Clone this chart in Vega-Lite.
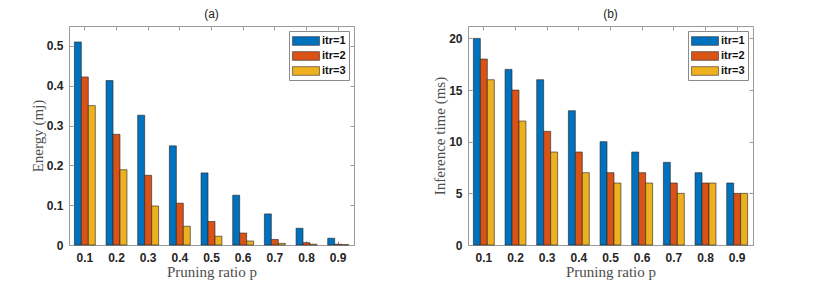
{
  "$schema": "https://vega.github.io/schema/vega-lite/v6.json",
  "background": "white",
  "padding": {"left": 29, "top": 7, "right": 5, "bottom": 5},
  "spacing": 77,
  "datasets": {
    "energy": [
      {"p": "0.1", "itr": "itr=1", "value": 0.510}, {"p": "0.1", "itr": "itr=2", "value": 0.422}, {"p": "0.1", "itr": "itr=3", "value": 0.350},
      {"p": "0.2", "itr": "itr=1", "value": 0.413}, {"p": "0.2", "itr": "itr=2", "value": 0.278}, {"p": "0.2", "itr": "itr=3", "value": 0.189},
      {"p": "0.3", "itr": "itr=1", "value": 0.326}, {"p": "0.3", "itr": "itr=2", "value": 0.175}, {"p": "0.3", "itr": "itr=3", "value": 0.098},
      {"p": "0.4", "itr": "itr=1", "value": 0.249}, {"p": "0.4", "itr": "itr=2", "value": 0.105}, {"p": "0.4", "itr": "itr=3", "value": 0.047},
      {"p": "0.5", "itr": "itr=1", "value": 0.181}, {"p": "0.5", "itr": "itr=2", "value": 0.059}, {"p": "0.5", "itr": "itr=3", "value": 0.022},
      {"p": "0.6", "itr": "itr=1", "value": 0.125}, {"p": "0.6", "itr": "itr=2", "value": 0.030}, {"p": "0.6", "itr": "itr=3", "value": 0.010},
      {"p": "0.7", "itr": "itr=1", "value": 0.078}, {"p": "0.7", "itr": "itr=2", "value": 0.014}, {"p": "0.7", "itr": "itr=3", "value": 0.004},
      {"p": "0.8", "itr": "itr=1", "value": 0.042}, {"p": "0.8", "itr": "itr=2", "value": 0.006}, {"p": "0.8", "itr": "itr=3", "value": 0.002},
      {"p": "0.9", "itr": "itr=1", "value": 0.017}, {"p": "0.9", "itr": "itr=2", "value": 0.002}, {"p": "0.9", "itr": "itr=3", "value": 0.001}
    ],
    "time": [
      {"p": "0.1", "itr": "itr=1", "value": 20}, {"p": "0.1", "itr": "itr=2", "value": 18}, {"p": "0.1", "itr": "itr=3", "value": 16},
      {"p": "0.2", "itr": "itr=1", "value": 17}, {"p": "0.2", "itr": "itr=2", "value": 15}, {"p": "0.2", "itr": "itr=3", "value": 12},
      {"p": "0.3", "itr": "itr=1", "value": 16}, {"p": "0.3", "itr": "itr=2", "value": 11}, {"p": "0.3", "itr": "itr=3", "value": 9},
      {"p": "0.4", "itr": "itr=1", "value": 13}, {"p": "0.4", "itr": "itr=2", "value": 9}, {"p": "0.4", "itr": "itr=3", "value": 7},
      {"p": "0.5", "itr": "itr=1", "value": 10}, {"p": "0.5", "itr": "itr=2", "value": 7}, {"p": "0.5", "itr": "itr=3", "value": 6},
      {"p": "0.6", "itr": "itr=1", "value": 9}, {"p": "0.6", "itr": "itr=2", "value": 7}, {"p": "0.6", "itr": "itr=3", "value": 6},
      {"p": "0.7", "itr": "itr=1", "value": 8}, {"p": "0.7", "itr": "itr=2", "value": 6}, {"p": "0.7", "itr": "itr=3", "value": 5},
      {"p": "0.8", "itr": "itr=1", "value": 7}, {"p": "0.8", "itr": "itr=2", "value": 6}, {"p": "0.8", "itr": "itr=3", "value": 6},
      {"p": "0.9", "itr": "itr=1", "value": 6}, {"p": "0.9", "itr": "itr=2", "value": 5}, {"p": "0.9", "itr": "itr=3", "value": 5}
    ]
  },
  "hconcat": [
    {
      "width": 285,
      "height": 219,
      "title": {"text": "(a)"},
      "data": {"name": "energy"},
      "layer": [
        {
          "mark": {"type": "bar", "stroke": "#222222", "strokeWidth": 0.6},
          "encoding": {
            "x": {"field": "p", "type": "ordinal", "sort": null, "scale": {"paddingInner": 0.34, "paddingOuter": 0.17},
                  "axis": {"orient": "bottom", "title": "Pruning ratio p", "labelAngle": 0}},
            "xOffset": {"field": "itr", "type": "nominal", "scale": {"paddingInner": 0, "paddingOuter": 0}},
            "y": {"field": "value", "type": "quantitative", "scale": {"domain": [0, 0.55], "nice": false},
                  "axis": {"orient": "left", "title": "Energy (mj)", "values": [0, 0.1, 0.2, 0.3, 0.4, 0.5],
                           "labelExpr": "datum.value == 0 ? '0' : format(datum.value, '.1f')"}},
            "color": {"field": "itr", "type": "nominal",
                      "scale": {"domain": ["itr=1", "itr=2", "itr=3"], "range": ["#0072BD", "#D95319", "#EDB120"]},
                      "legend": {"orient": "top-right", "title": null}}
          }
        },
        {
          "mark": {"type": "bar", "opacity": 0},
          "encoding": {
            "x": {"field": "p", "type": "ordinal", "sort": null, "axis": {"orient": "top", "title": null, "labels": false}},
            "xOffset": {"field": "itr", "type": "nominal"},
            "y": {"field": "value", "type": "quantitative",
                  "axis": {"orient": "right", "title": null, "labels": false, "values": [0, 0.1, 0.2, 0.3, 0.4, 0.5]}}
          }
        }
      ],
      "resolve": {"axis": {"x": "independent", "y": "independent"}}
    },
    {
      "width": 285,
      "height": 219,
      "title": {"text": "(b)"},
      "data": {"name": "time"},
      "layer": [
        {
          "mark": {"type": "bar", "stroke": "#222222", "strokeWidth": 0.6},
          "encoding": {
            "x": {"field": "p", "type": "ordinal", "sort": null, "scale": {"paddingInner": 0.34, "paddingOuter": 0.17},
                  "axis": {"orient": "bottom", "title": "Pruning ratio p", "labelAngle": 0}},
            "xOffset": {"field": "itr", "type": "nominal", "scale": {"paddingInner": 0, "paddingOuter": 0}},
            "y": {"field": "value", "type": "quantitative", "scale": {"domain": [0, 21.2], "nice": false},
                  "axis": {"orient": "left", "title": "Inference time (ms)", "values": [0, 5, 10, 15, 20]}},
            "color": {"field": "itr", "type": "nominal",
                      "scale": {"domain": ["itr=1", "itr=2", "itr=3"], "range": ["#0072BD", "#D95319", "#EDB120"]},
                      "legend": {"orient": "top-right", "title": null}}
          }
        },
        {
          "mark": {"type": "bar", "opacity": 0},
          "encoding": {
            "x": {"field": "p", "type": "ordinal", "sort": null, "axis": {"orient": "top", "title": null, "labels": false}},
            "xOffset": {"field": "itr", "type": "nominal"},
            "y": {"field": "value", "type": "quantitative",
                  "axis": {"orient": "right", "title": null, "labels": false, "values": [0, 5, 10, 15, 20]}}
          }
        }
      ],
      "resolve": {"axis": {"x": "independent", "y": "independent"}}
    }
  ],
  "resolve": {"scale": {"color": "independent"}, "legend": {"color": "independent"}},
  "config": {
    "view": {"stroke": "#9a9a9a", "strokeWidth": 1},
    "title": {"font": "Liberation Sans", "fontSize": 12, "fontWeight": "normal", "color": "#262626", "offset": 5},
    "axis": {
      "grid": false,
      "domain": false,
      "tickColor": "#9a9a9a",
      "tickSize": -4,
      "labelFont": "Liberation Sans",
      "labelFontWeight": "bold",
      "labelFontSize": 12,
      "labelColor": "#262626",
      "titleFont": "Liberation Serif",
      "titleFontWeight": "normal",
      "titleFontSize": 15,
      "titleColor": "#4d4d4d",
      "titlePadding": 1
    },
    "axisX": {"labelPadding": 11},
    "axisY": {"labelPadding": 10},
    "legend": {
      "fillColor": "white",
      "strokeColor": "#8a8a8a",
      "strokeWidth": 1,
      "padding": 3,
      "offset": 5,
      "symbolType": "M-2.08,-0.67L2.08,-0.67L2.08,0.67L-2.08,0.67Z",
      "symbolSize": 169,
      "symbolOffset": 7,
      "symbolStrokeColor": "#333333",
      "symbolStrokeWidth": 0.6,
      "symbolOpacity": 1,
      "labelFont": "Liberation Sans",
      "labelFontWeight": "bold",
      "labelFontSize": 11,
      "labelColor": "#111111",
      "labelOffset": 9,
      "rowPadding": 2
    }
  }
}
